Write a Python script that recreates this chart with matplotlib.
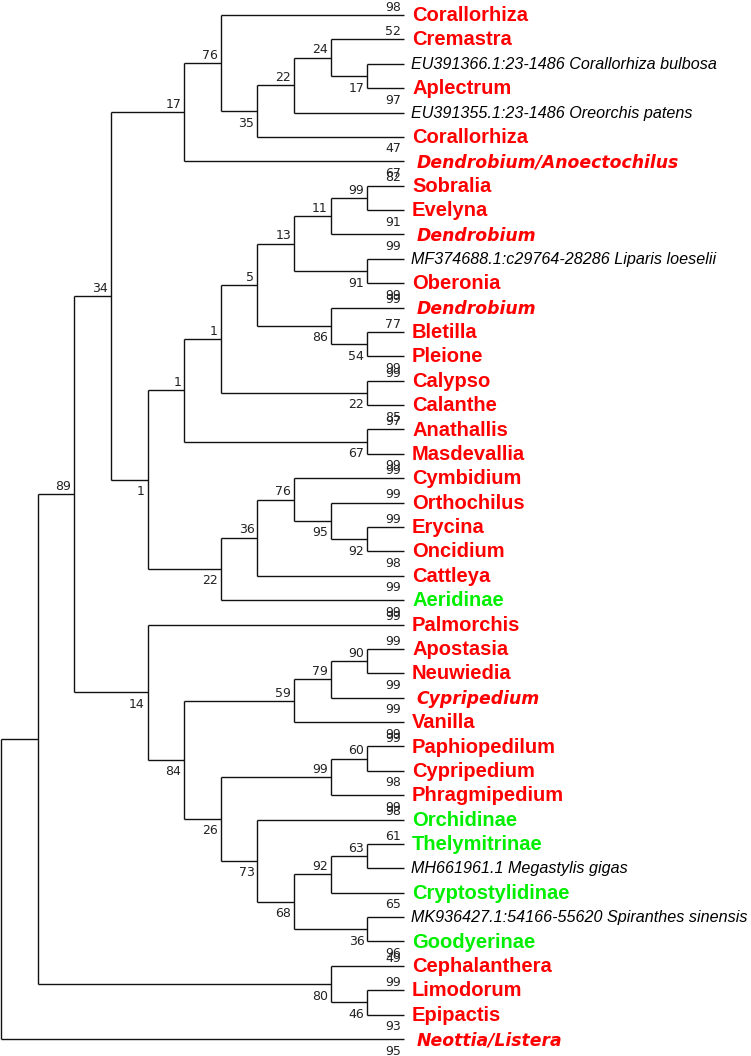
import matplotlib
matplotlib.use("Agg")
import matplotlib.pyplot as plt

# ---------------------------------------------------------------
# DATA
# ---------------------------------------------------------------
# tips, top to bottom
leaf_names = [
    "Corallorhiza", "Cremastra", "EU391366.1:23-1486 Corallorhiza bulbosa",
    "Aplectrum", "EU391355.1:23-1486 Oreorchis patens", "Corallorhiza",
    "Dendrobium/Anoectochilus", "Sobralia", "Evelyna", "Dendrobium",
    "MF374688.1:c29764-28286 Liparis loeselii", "Oberonia", "Dendrobium",
    "Bletilla", "Pleione", "Calypso", "Calanthe", "Anathallis", "Masdevallia",
    "Cymbidium", "Orthochilus", "Erycina", "Oncidium", "Cattleya", "Aeridinae",
    "Palmorchis", "Apostasia", "Neuwiedia", "Cypripedium", "Vanilla",
    "Paphiopedilum", "Cypripedium", "Phragmipedium", "Orchidinae",
    "Thelymitrinae", "MH661961.1 Megastylis gigas", "Cryptostylidinae",
    "MK936427.1:54166-55620 Spiranthes sinensis", "Goodyerinae",
    "Cephalanthera", "Limodorum", "Epipactis", "Neottia/Listera",
]

# r = red bold, i = red bold italic, k = black italic (GenBank), g = green bold
leaf_style = list("rrkrkri" "rrikrir" "rrrrr" "rrrrrg" "rrrirrrrg" "gkgkg" "rrri")

# bootstrap value on each tip branch (None = not shown)
leaf_support = [98, 52, None, 97, None, 47, 67, 82, 91, 99, None, 99, 99,
                77, 99, 99, 85, 97, 99, 99, 99, 99, 98, 99, 99, 99, 99, 99,
                99, 99, 99, 98, 99, 98, 61, None, 65, None, 96, 49, 99, 93, 95]

# topology (tip indices), internal labels = bootstrap values
clade_corallorhiza = "((0,(((1,(2,3)17)24,4)22,5)35)76,6)17"
clade_epidendroid = ("(((((((7,8)99,9)11,(10,11)91)13,(12,(13,14)54)86)5,"
                     "(15,16)22)1,(17,18)67)1,"
                     "(((19,(20,(21,22)92)95)76,23)36,24)22)1")
clade_lower = ("(25,((((26,27)90,28)79,29)59,(((30,31)60,32)99,"
               "(33,(((34,35)63,36)92,(37,38)36)68)73)26)84)14")
clade_neottieae = "(39,(40,41)46)80"
newick = ("((((" + clade_corallorhiza + "," + clade_epidendroid + ")34,"
          + clade_lower + ")89," + clade_neottieae + "),42);")

colors = {"r": "#ff0000", "i": "#ff0000", "k": "black", "g": "#00ee00"}


# ---------------------------------------------------------------
# parse + layout (leaves aligned, node depth from subtree height)
# ---------------------------------------------------------------
def parse(s, pos=0):
    if s[pos] == "(":
        kids = []
        pos += 1
        while True:
            child, pos = parse(s, pos)
            kids.append(child)
            if s[pos] == ",":
                pos += 1
            else:
                break
        pos += 1  # ')'
        lab = ""
        while pos < len(s) and s[pos] not in ",);":
            lab += s[pos]
            pos += 1
        return {"kids": kids, "label": lab}, pos
    num = ""
    while s[pos].isdigit():
        num += s[pos]
        pos += 1
    return {"kids": [], "leaf": int(num)}, pos


tree, _ = parse(newick)


def height(n):
    if not n["kids"]:
        n["h"] = 0
    else:
        n["h"] = 1 + max(height(k) for k in n["kids"])
    return n["h"]


H = height(tree)


def place(n):
    n["x"] = H - n["h"]
    if not n["kids"]:
        n["y"] = n["leaf"]
    else:
        for k in n["kids"]:
            place(k)
        n["y"] = (n["kids"][0]["y"] + n["kids"][-1]["y"]) / 2


place(tree)

# ---------------------------------------------------------------
# PLOT
# ---------------------------------------------------------------
fig = plt.figure(figsize=(7.51, 10.56), dpi=100)
ax = fig.add_axes([0, 0, 1, 1])
ax.set_xlim(-1 / 36.64, 750 / 36.64)
ax.set_ylim(1041 / 24.38, -15 / 24.38)
ax.axis("off")

lc = "#111111"
sup_kw = dict(textcoords="offset points", ha="right", fontsize=9,
              color="#222222", family="DejaVu Sans")


def draw(n):
    if not n["kids"]:
        return
    ax.plot([n["x"], n["x"]], [n["kids"][0]["y"], n["kids"][-1]["y"]],
            color=lc, lw=1.0, solid_capstyle="butt")
    for j, k in enumerate(n["kids"]):
        ax.plot([n["x"], k["x"]], [k["y"], k["y"]], color=lc, lw=1.0,
                solid_capstyle="butt")
        lab = k.get("label") if k["kids"] else leaf_support[k["leaf"]]
        if lab not in (None, ""):
            if j == 0:
                ax.annotate(str(lab), (k["x"], k["y"]), xytext=(-2.2, 3),
                            va="baseline", **sup_kw)
            else:
                ax.annotate(str(lab), (k["x"], k["y"]), xytext=(-2.2, -4),
                            va="top", **sup_kw)
        draw(k)


draw(tree)

# tip names
for i, (name, st) in enumerate(zip(leaf_names, leaf_style)):
    if st in "rg":
        ax.annotate(name, (H, i), xytext=(5.8, -4.4), textcoords="offset points",
                    va="baseline", ha="left", fontsize=14.5, fontweight="bold",
                    family="Liberation Sans", color=colors[st])
    elif st == "i":
        dx = 9.2 if name == "Dendrobium" else 8.9
        ax.annotate(name, (H, i), xytext=(dx, -4.4), textcoords="offset points",
                    va="baseline", ha="left", fontsize=12.4, fontweight="bold",
                    fontstyle="oblique", family="DejaVu Sans", color=colors[st])
    else:
        ax.annotate(name, (H, i), xytext=(5.2, -3.7), textcoords="offset points",
                    va="baseline", ha="left", fontsize=11.6, fontstyle="italic",
                    family="Liberation Sans", color=colors[st])

fig.savefig("out.png", dpi=100)
